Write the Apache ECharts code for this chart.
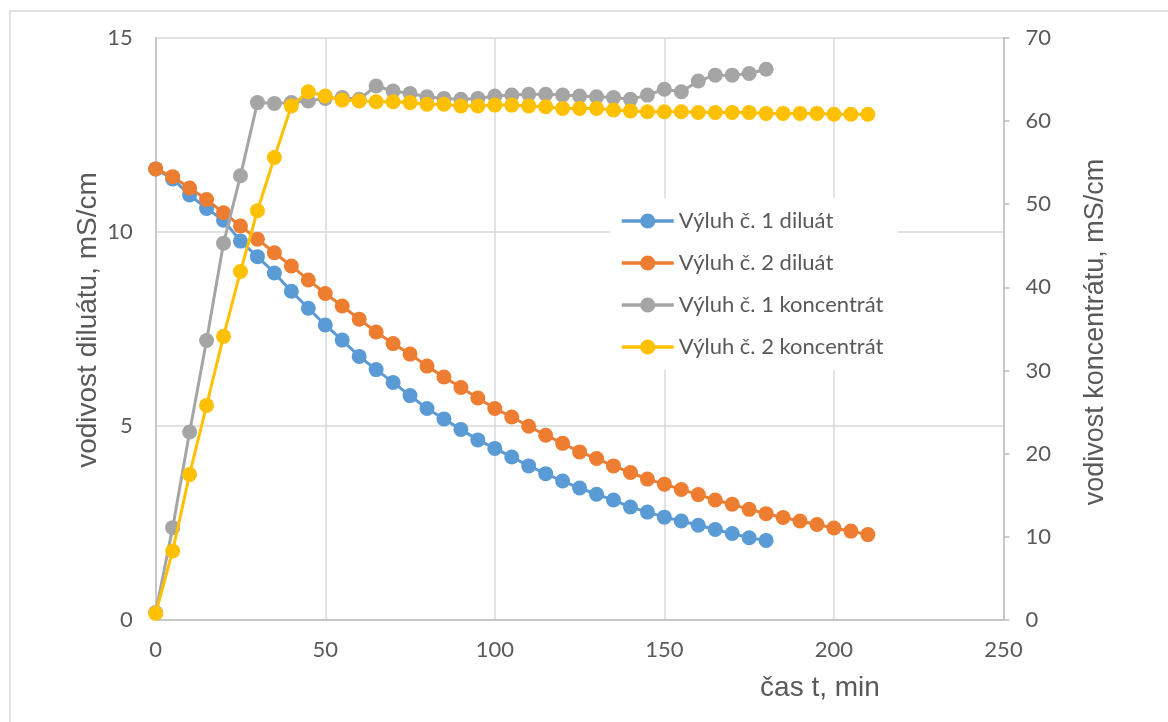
<!DOCTYPE html>
<html><head><meta charset="utf-8">
<script src="https://cdn.jsdelivr.net/npm/echarts@6/dist/echarts.min.js"></script>
<style>html,body{margin:0;padding:0;background:#fff}#c{width:1168px;height:722px}</style>
</head><body><div id="c"></div>
<script>
const timeShort = [0,5,10,15,20,25,30,35,40,45,50,55,60,65,70,75,80,85,90,95,100,105,110,115,120,125,130,135,140,145,150,155,160,165,170,175,180];
const timeLong = [0,5,10,15,20,25,30,35,40,45,50,55,60,65,70,75,80,85,90,95,100,105,110,115,120,125,130,135,140,145,150,155,160,165,170,175,180,185,190,195,200,205,210];
const dil1 = [11.62,11.36,10.95,10.60,10.30,9.76,9.36,8.94,8.47,8.03,7.60,7.21,6.79,6.45,6.12,5.78,5.45,5.18,4.91,4.64,4.42,4.20,3.97,3.77,3.58,3.40,3.24,3.09,2.91,2.78,2.65,2.55,2.44,2.33,2.23,2.12,2.05];
const dil2 = [11.62,11.42,11.13,10.83,10.49,10.15,9.81,9.46,9.12,8.76,8.41,8.09,7.75,7.42,7.12,6.85,6.54,6.26,5.99,5.72,5.45,5.23,4.99,4.76,4.55,4.33,4.16,3.97,3.80,3.63,3.50,3.36,3.23,3.09,2.98,2.85,2.74,2.64,2.55,2.46,2.37,2.29,2.20];
const kon1 = [0.9,11.1,22.6,33.6,45.3,53.4,62.2,62.1,62.2,62.4,62.7,62.8,62.6,64.2,63.6,63.3,62.9,62.7,62.6,62.7,63.0,63.1,63.2,63.2,63.1,63.0,62.9,62.8,62.6,63.1,63.8,63.5,64.8,65.5,65.5,65.7,66.2];
const kon2 = [0.8,8.3,17.5,25.8,34.1,41.9,49.2,55.6,61.8,63.5,63.0,62.5,62.4,62.3,62.3,62.2,62.0,62.0,61.8,61.8,61.9,61.9,61.8,61.7,61.5,61.5,61.5,61.3,61.2,61.1,61.1,61.1,61.0,61.0,61.0,61.0,60.9,60.9,60.9,60.9,60.8,60.8,60.8];
const seriesNames = ['Výluh č. 1 diluát','Výluh č. 2 diluát','Výluh č. 1 koncentrát','Výluh č. 2 koncentrát'];
const colors = ['#5b9bd5','#ed7d31','#a5a5a5','#ffc000'];
const xTitle = 'čas t, min';
const yLeftTitle = 'vodivost diluátu, mS/cm';
const yRightTitle = 'vodivost koncentrátu, mS/cm';

const zip = (xs, ys) => ys.map((v,i)=>[xs[i], v]);
const txt = '#595959';
const chart = echarts.init(document.getElementById('c'));
function mk(i, xs, ys, yIdx){
  return {name: seriesNames[i], type:'line', yAxisIndex:yIdx, data: zip(xs, ys),
    symbol:'circle', symbolSize:15, showSymbol:true,
    lineStyle:{color:colors[i], width:3}, itemStyle:{color:colors[i]},
    emphasis:{disabled:true}, animation:false, z:2+i};
}
chart.setOption({
  animation:false,
  textStyle:{fontFamily:'Lato'},
  grid:{left:155.7, right:164.5, top:37.7, bottom:102, containLabel:false},
  xAxis:{type:'value', min:0, max:250, interval:50,
    axisLine:{show:true, lineStyle:{color:'#bfbfbf', width:1.5}}, axisTick:{show:false},
    axisLabel:{color:txt, fontSize:22, margin:19, fontFamily:'Lato'},
    splitLine:{show:true, lineStyle:{color:'#d9d9d9', width:1.5}}},
  yAxis:[
    {type:'value', min:0, max:15, interval:5, position:'left',
     axisLine:{show:true, lineStyle:{color:'#bfbfbf', width:1.5}}, axisTick:{show:false},
     axisLabel:{color:txt, fontSize:22, margin:23, fontFamily:'Lato'},
     splitLine:{show:true, lineStyle:{color:'#d9d9d9', width:1.5}}},
    {type:'value', min:0, max:70, interval:10, position:'right',
     axisLine:{show:true, lineStyle:{color:'#bfbfbf', width:1.5}},
     axisTick:{show:true, inside:false, length:6, lineStyle:{color:'#bfbfbf', width:1.5}},
     axisLabel:{color:txt, fontSize:22, margin:22, fontFamily:'Lato'},
     splitLine:{show:false}}
  ],
  legend:{orient:'vertical', left:610, top:198, data:seriesNames,
    itemWidth:52, itemHeight:19, itemGap:20, backgroundColor:'#ffffff',
    padding:[12,14,12,10],
    lineStyle:{width:3.5},
    textStyle:{color:txt, fontSize:22, lineHeight:19, fontFamily:'Lato'}},
  graphic:[
    {type:'rect', shape:{x:10, y:11, width:1200, height:760}, style:{fill:'none', stroke:'#d9d9d9', lineWidth:1.5}, silent:true, z:-10},
    {type:'text', x:820, y:688, style:{text:xTitle, fill:txt, font:'28px "Liberation Sans"', textAlign:'center', textVerticalAlign:'middle'}},
    {type:'text', x:88, y:320, rotation:Math.PI/2, style:{text:yLeftTitle, fill:txt, font:'28px "Liberation Sans"', textAlign:'center', textVerticalAlign:'middle'}},
    {type:'text', x:1096, y:332, rotation:Math.PI/2, style:{text:yRightTitle, fill:txt, font:'27px "Liberation Sans"', textAlign:'center', textVerticalAlign:'middle'}}
  ],
  series:[ mk(0,timeShort,dil1,0), mk(1,timeLong,dil2,0), mk(2,timeShort,kon1,1), mk(3,timeLong,kon2,1) ]
});
</script></body></html>
